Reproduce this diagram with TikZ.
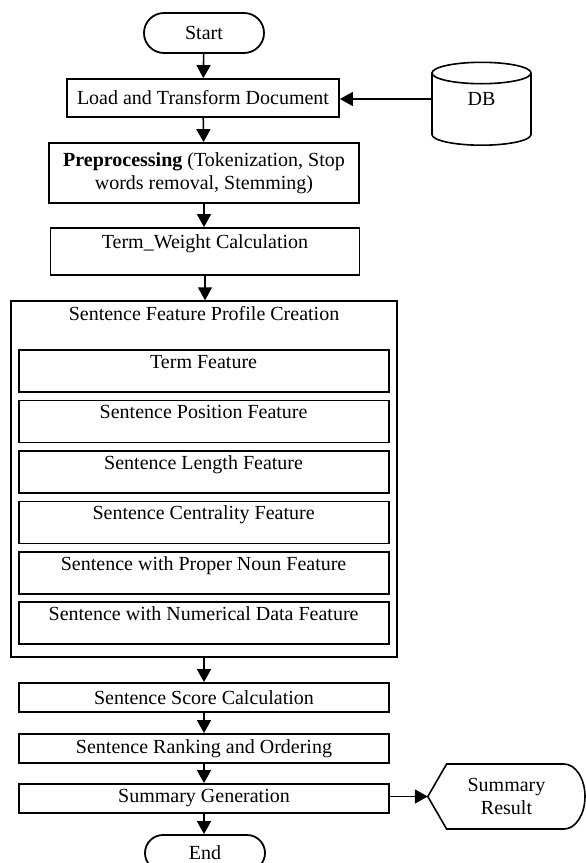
\documentclass[tikz,border=0pt]{standalone}
\usepackage{fontspec}
\setmainfont{Liberation Serif}
\usetikzlibrary{arrows.meta,shapes.misc}
\begin{document}
\begin{tikzpicture}[x=1pt,y=-1pt,
  font=\fontsize{20}{23}\selectfont,
  arr/.style={line width=1.6pt,-{Triangle[width=14pt,length=13pt]}},
  term/.style={draw,line width=1.8pt,rounded rectangle,minimum width=120pt,minimum height=40pt,inner sep=0pt},
  box/.style={draw,line width=1.8pt,minimum width=#1,inner sep=0pt,align=center},
  topbox/.style={draw,line width=1.8pt,minimum width=370pt,inner xsep=0pt,inner ysep=0pt,text height=18pt,text depth=24pt}]
\useasboundingbox (0,0) rectangle (586,863);
\node[term] (start) at (204,33) {Start};
\node[box=272pt,minimum height=38pt] (load) at (203,98) {Load and Transform Document};
\node[box=310pt,minimum height=60pt] (pre) at (204,173) {\textbf{Preprocessing} (Tokenization, Stop\\words removal, Stemming)};
\node[draw,line width=1.8pt,minimum width=309pt,inner sep=0pt,text height=20pt,text depth=27pt] (tw) at (205,251.5) {Term\_Weight Calculation};
\node[draw,line width=1.4pt,minimum width=386pt,inner sep=0pt,text height=19pt,text depth=337pt] (outer) at (204,479) {Sentence Feature Profile Creation};
\node[topbox] (f1) at (203.6,371) {Term Feature};
\node[topbox] (f2) at (203.6,421.5) {Sentence Position Feature};
\node[topbox] (f3) at (203.6,472) {Sentence Length Feature};
\node[topbox] (f4) at (203.6,522.5) {Sentence Centrality Feature};
\node[topbox] (f5) at (203.6,573) {Sentence with Proper Noun Feature};
\node[topbox] (f6) at (203.6,623) {Sentence with Numerical Data Feature};
\node[box=370pt,minimum height=29pt] (score) at (204,697.5) {Sentence Score Calculation};
\node[box=370pt,minimum height=29pt] (rank) at (204,748.5) {Sentence Ranking and Ordering};
\node[box=370pt,minimum height=29pt] (gen) at (204,798.5) {Summary Generation};
\node[term,minimum height=36pt] (end) at (205,853) {End};
% DB cylinder
\node[minimum width=99pt,minimum height=20pt,inner sep=0pt] (db) at (481.5,99) {DB};
\draw[line width=1.6pt] (432,73) -- (432,134.5)
  arc[start angle=180,end angle=360,x radius=49.5pt,y radius=10.7pt] -- (531,73);
\draw[line width=1.6pt] (481.5,73) ellipse[x radius=49.5pt,y radius=10.7pt];
% Summary result display shape
\node[minimum width=157pt,minimum height=65pt,inner sep=0pt,align=center] (res) at (506.5,796.5) {Summary\\Result};
\draw[line width=1.6pt] (res.west) -- (446.6,764) -- (564,764)
  arc[start angle=90,end angle=-90,x radius=21pt,y radius=32.5pt] -- (446.6,829) -- cycle;
% connectors
\draw[arr] (start) -- (load);
\draw[arr] (db.west) -- (db.west -| load.east);
\draw[arr] (load) -- (pre);
\draw[arr] (pre) -- (pre.south |- tw.north);
\draw[arr] (tw) -- (tw.south |- outer.north);
\draw[arr] (outer.south) -- (outer.south |- score.north);
\draw[arr] (score) -- (rank);
\draw[arr] (rank) -- (gen);
\draw[arr] (gen) -- (gen.south |- end.north);
\draw[arr] (gen.east |- res.west) -- (res.west);
\end{tikzpicture}
\end{document}
